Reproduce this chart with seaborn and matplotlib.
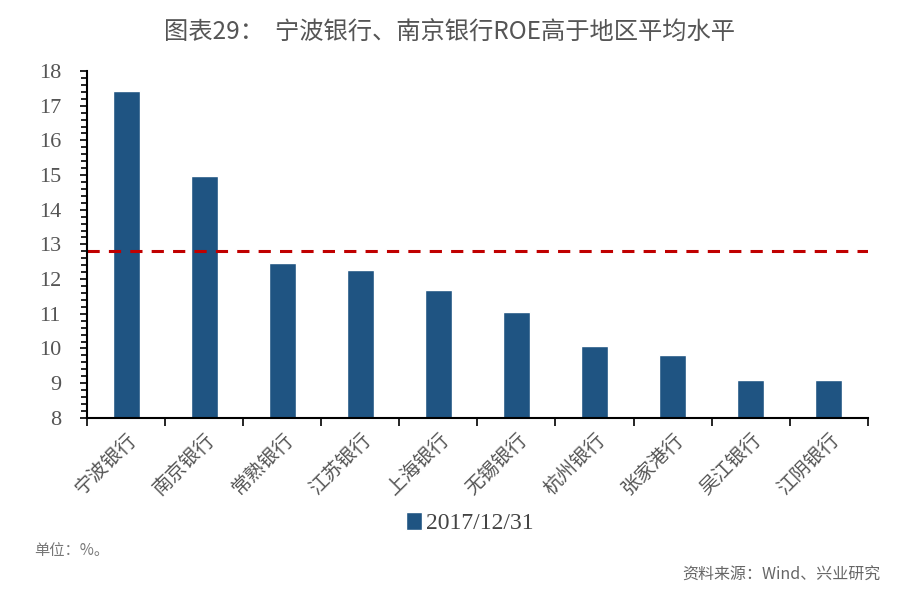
import matplotlib
matplotlib.use('Agg')
import matplotlib.pyplot as plt
import seaborn as sns
import pandas as pd
from matplotlib.ticker import MultipleLocator

# Data
banks = ['宁波银行', '南京银行', '常熟银行', '江苏银行', '上海银行',
         '无锡银行', '杭州银行', '张家港行', '吴江银行', '江阴银行']
roe = [17.42, 14.97, 12.45, 12.27, 11.69, 11.06, 10.08, 9.80, 9.08, 9.08]
avg_roe = 12.82
series_name = '2017/12/31'
y_ticks = list(range(8, 19))

df = pd.DataFrame({'bank': banks, 'roe': roe, 'date': series_name})

sns.set_theme(style='white')
plt.rcParams['font.family'] = ['Noto Sans CJK SC', 'DejaVu Sans']

fig = plt.figure(figsize=(9, 6.02), dpi=100)
ax = fig.add_axes([0.097, 0.306, 0.867, 0.576])

sns.barplot(data=df, x='bank', y='roe', hue='date', palette=['#1f5482'],
            saturation=1, width=0.34, ax=ax, legend=True)

ax.axhline(avg_roe, color='#c00000', linestyle=(0, (4, 3)), linewidth=2.2)

ax.set_ylim(8, 18)
ax.set_xlim(-0.5, len(banks) - 0.5)
ax.set_yticks(y_ticks)
ax.set_yticklabels([str(t) for t in y_ticks], fontfamily='serif',
                   fontsize=16, color='#555555')
plt.rcParams['font.serif'] = ['Liberation Serif']
ax.yaxis.set_minor_locator(MultipleLocator(0.2))
ax.set_xlabel('')
ax.set_ylabel('')

for s in ['top', 'right']:
    ax.spines[s].set_visible(False)
for s in ['left', 'bottom']:
    ax.spines[s].set_color('black')
    ax.spines[s].set_linewidth(1.5)

ax.tick_params(axis='y', which='major', direction='out', length=5, width=1.2,
               color='black', left=True, pad=14)
ax.tick_params(axis='y', which='minor', direction='out', length=4, width=1.2,
               color='black', left=True)

# category boundary ticks on x axis
ax.set_xticks([i for i in range(len(banks))])
ax.set_xticklabels(banks, rotation=45, ha='right', rotation_mode='anchor',
                   fontsize=14, color='#555555')
ax.set_xticks([i - 0.5 for i in range(len(banks) + 1)], minor=True)
ax.tick_params(axis='x', which='major', length=0, pad=8)
ax.tick_params(axis='x', which='minor', direction='out', length=6, width=1.2,
               color='black', bottom=True)

leg = ax.legend(loc='upper center', bbox_to_anchor=(0.49, -0.21), frameon=False,
                handlelength=0.7, handleheight=0.8, handletextpad=0.15,
                prop={'family': 'Liberation Serif', 'size': 17})
for t in leg.get_texts():
    t.set_color('#444444')

fig.text(0.5, 0.947, '图表29：  宁波银行、南京银行ROE高于地区平均水平',
         ha='center', va='center', fontsize=17.5, color='#555555')
fig.text(0.038, 0.085, '单位：%。', ha='left', va='center',
         fontsize=11, color='#777777')
fig.text(0.978, 0.045, '资料来源：Wind、兴业研究', ha='right', va='center',
         fontsize=11.5, color='#666666')

fig.savefig('out.png', dpi=100)
